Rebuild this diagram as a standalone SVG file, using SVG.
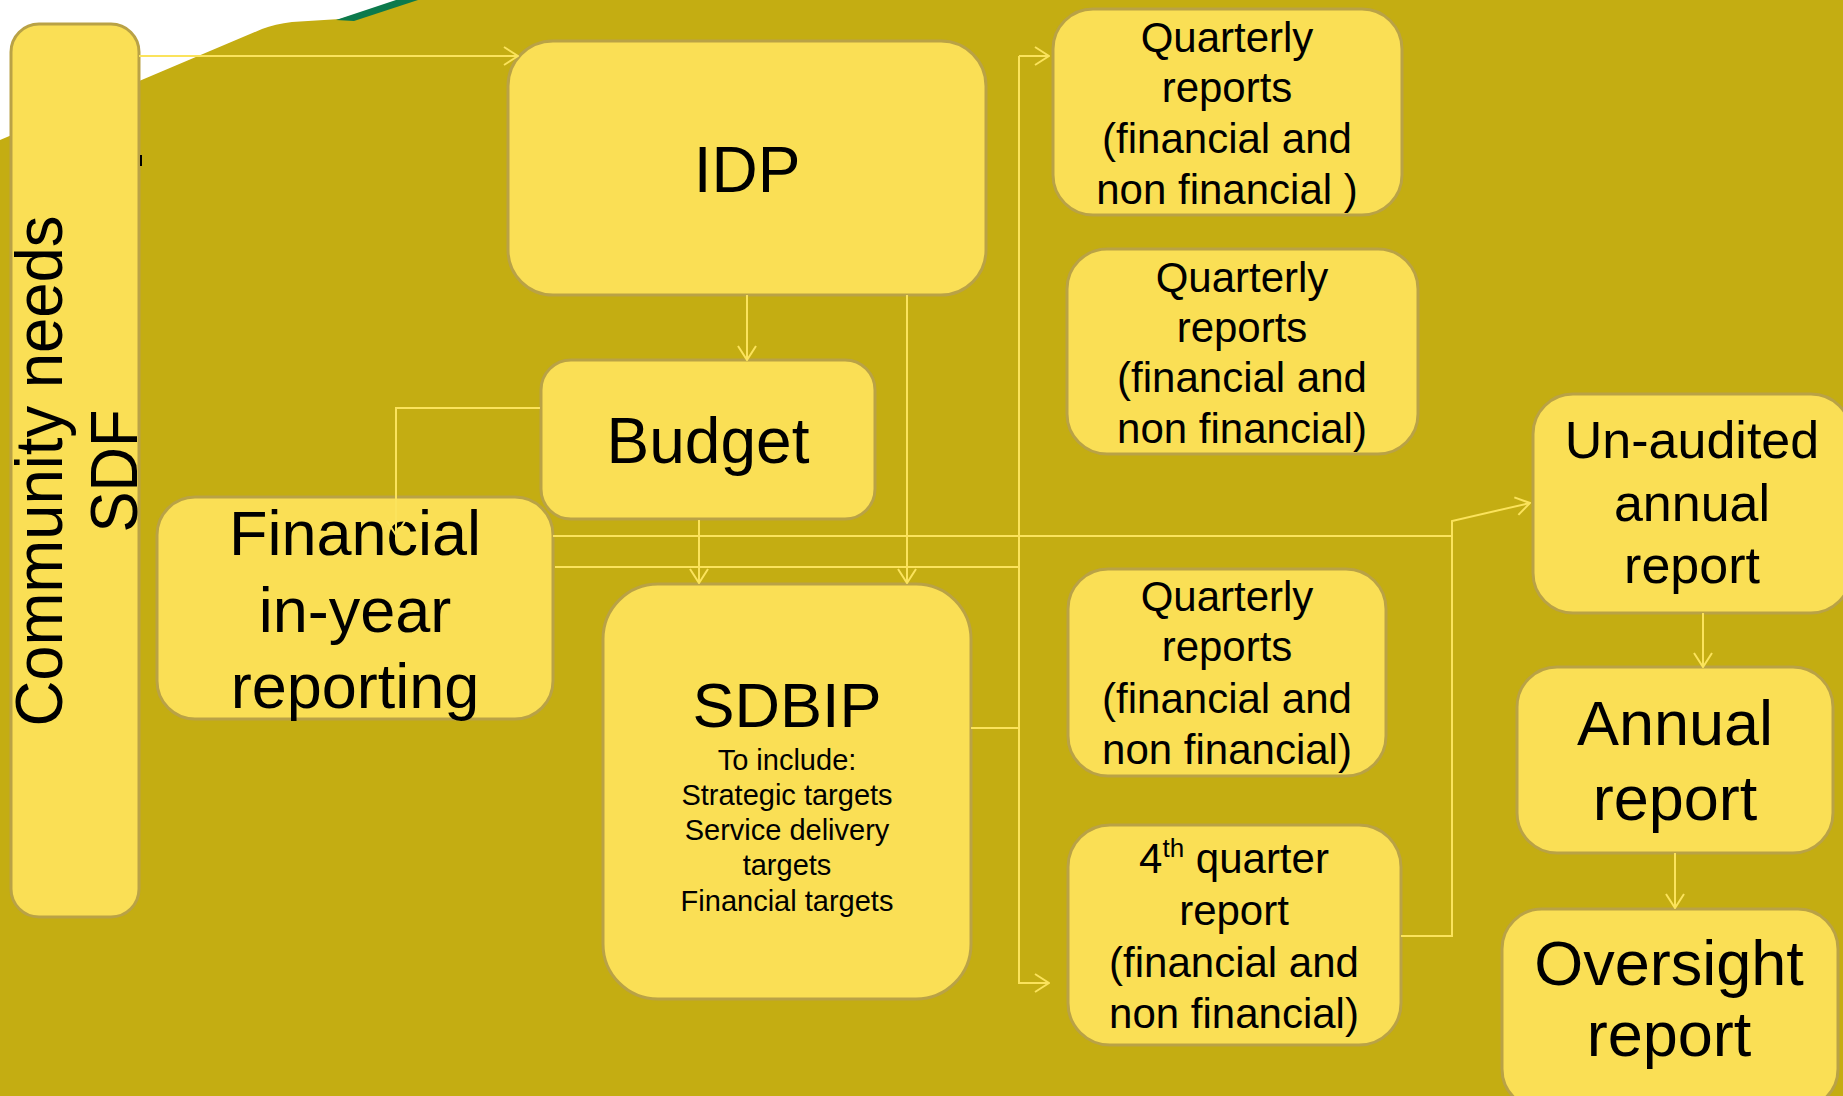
<svg xmlns="http://www.w3.org/2000/svg" width="1843" height="1096" viewBox="0 0 1843 1096">
  <defs>
    <style>
      .box { fill: #FADF55; stroke: #B9A246; stroke-width: 3; }
      .t { font-family: "Liberation Sans", Arial, sans-serif; fill: #000; text-anchor: middle; }
      .c { fill: none; stroke: #FBE35C; stroke-width: 2; }
      .a { marker-end: url(#arr); }
    </style>
    <marker id="arr" viewBox="0 0 16 20" refX="15" refY="10" markerWidth="16" markerHeight="20" markerUnits="userSpaceOnUse" orient="auto">
      <path d="M1,1 L15,10 L1,19" fill="none" stroke="#FBE35C" stroke-width="2"/>
    </marker>
  </defs>

  <!-- background -->
  <rect x="0" y="0" width="1843" height="1096" fill="#C4AD12"/>
  <path d="M0,0 L404,0 L340,19 L292,22 Q275,24 262,29 L0,140 Z" fill="#FFFFFF"/>
  <path d="M336,20 L396,0 L418,0 L354,21 Z" fill="#0C7A4C"/>

  <!-- nodes -->
  <g id="community">
    <rect class="box" x="11" y="24" width="128" height="893" rx="28"/>
    <text class="t" font-size="66" textLength="511" lengthAdjust="spacingAndGlyphs" transform="translate(62,471) rotate(-90)">Community needs</text>
    <text class="t" font-size="66" textLength="123" lengthAdjust="spacingAndGlyphs" transform="translate(137,471) rotate(-90)">SDF</text>
  </g>
  <line x1="141" y1="155" x2="141" y2="166" stroke="#000" stroke-width="2"/>

  <g id="idp">
    <rect class="box" x="508" y="41" width="478" height="254" rx="45"/>
    <text class="t" x="747" y="192" font-size="64">IDP</text>
  </g>

  <g id="budget">
    <rect class="box" x="541" y="360" width="334" height="159" rx="30"/>
    <text class="t" x="708" y="463" font-size="64">Budget</text>
  </g>

  <g id="financial">
    <rect class="box" x="157" y="497" width="396" height="222" rx="38"/>
    <text class="t" x="355" y="555" font-size="63">Financial</text>
    <text class="t" x="355" y="632" font-size="63">in-year</text>
    <text class="t" x="355" y="708" font-size="63">reporting</text>
  </g>

  <g id="sdbip">
    <rect class="box" x="603" y="584" width="368" height="415" rx="55"/>
    <text class="t" x="787" y="727" font-size="63">SDBIP</text>
    <text class="t" x="787" y="770" font-size="29">To include:</text>
    <text class="t" x="787" y="805" font-size="29">Strategic targets</text>
    <text class="t" x="787" y="840" font-size="29">Service delivery</text>
    <text class="t" x="787" y="875" font-size="29">targets</text>
    <text class="t" x="787" y="911" font-size="29">Financial targets</text>
  </g>

  <g id="quarterly1">
    <rect class="box" x="1053" y="9" width="349" height="206" rx="40"/>
    <text class="t" x="1227" y="52" font-size="42">Quarterly</text>
    <text class="t" x="1227" y="102" font-size="42">reports</text>
    <text class="t" x="1227" y="153" font-size="42">(financial and</text>
    <text class="t" x="1227" y="204" font-size="42">non financial )</text>
  </g>

  <g id="quarterly2">
    <rect class="box" x="1067" y="249" width="351" height="205" rx="40"/>
    <text class="t" x="1242" y="292" font-size="42">Quarterly</text>
    <text class="t" x="1242" y="342" font-size="42">reports</text>
    <text class="t" x="1242" y="392" font-size="42">(financial and</text>
    <text class="t" x="1242" y="443" font-size="42">non financial)</text>
  </g>

  <g id="quarterly3">
    <rect class="box" x="1068" y="569" width="318" height="207" rx="40"/>
    <text class="t" x="1227" y="611" font-size="42">Quarterly</text>
    <text class="t" x="1227" y="661" font-size="42">reports</text>
    <text class="t" x="1227" y="713" font-size="42">(financial and</text>
    <text class="t" x="1227" y="764" font-size="42">non financial)</text>
  </g>

  <g id="quarter4">
    <rect class="box" x="1068" y="825" width="333" height="220" rx="42"/>
    <text class="t" x="1234" y="873" font-size="42">4<tspan font-size="26" dy="-16">th</tspan><tspan dy="16"> quarter</tspan></text>
    <text class="t" x="1234" y="925" font-size="42">report</text>
    <text class="t" x="1234" y="977" font-size="42">(financial and</text>
    <text class="t" x="1234" y="1028" font-size="42">non financial)</text>
  </g>

  <g id="unaudited">
    <rect class="box" x="1533" y="394" width="318" height="219" rx="40"/>
    <text class="t" x="1692" y="458" font-size="52">Un-audited</text>
    <text class="t" x="1692" y="521" font-size="52">annual</text>
    <text class="t" x="1692" y="583" font-size="52">report</text>
  </g>

  <g id="annual">
    <rect class="box" x="1517" y="667" width="316" height="186" rx="40"/>
    <text class="t" x="1675" y="745" font-size="63">Annual</text>
    <text class="t" x="1675" y="820" font-size="63">report</text>
  </g>

  <g id="oversight">
    <rect class="box" x="1502" y="909" width="336" height="200" rx="40"/>
    <text class="t" x="1669" y="985" font-size="63">Oversight</text>
    <text class="t" x="1669" y="1056" font-size="63">report</text>
  </g>

  <!-- connectors -->
  <g id="connectors">
    <path class="c a" d="M139,56 L518,56"/>
    <path class="c a" d="M747,295 L747,360"/>
    <path class="c a" d="M907,295 L907,583"/>
    <path class="c a" d="M699,520 L699,583"/>
    <path class="c a" d="M540,408 L396,408 L396,535"/>
    <path class="c a" d="M553,536 L1452,536 L1452,521 L1530,503"/>
    <path class="c" d="M555,567 L1019,567"/>
    <path class="c a" d="M1019,56 L1019,983 L1049,983"/>
    <path class="c a" d="M1019,56 L1049,56"/>
    <path class="c" d="M971,728 L1019,728"/>
    <path class="c" d="M1401,936 L1452,936 L1452,536"/>
    <path class="c a" d="M1703,613 L1703,667"/>
    <path class="c a" d="M1675,853 L1675,908"/>
  </g>
</svg>
